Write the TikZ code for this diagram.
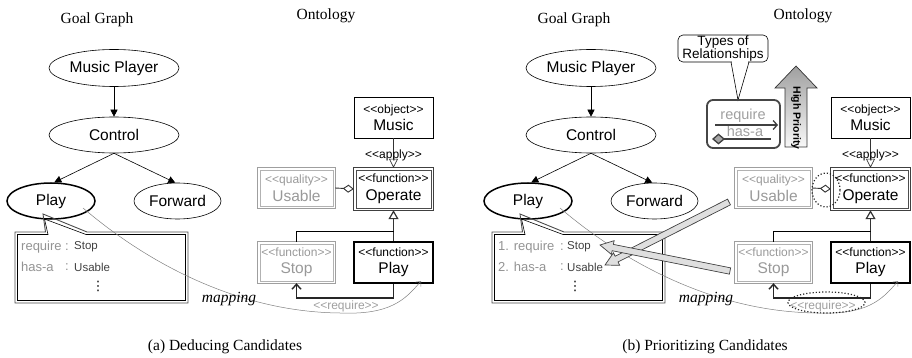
\documentclass[tikz,border=0pt]{standalone}
\usepackage{fontspec}
\setmainfont{Liberation Serif}
\newfontfamily\uf{Liberation Sans}
\newfontfamily\dv{DejaVu Sans}
\usetikzlibrary{arrows.meta,shapes.geometric,calc}
\newcommand\stp[1]{{\fontsize{12}{12}\selectfont #1}}
\tikzset{
  ttl/.style={font=\fontsize{15.5}{18}\selectfont, inner sep=0pt},
  gnode/.style={ellipse, draw, inner sep=0pt, minimum width=130pt, minimum height=37pt, font=\uf\fontsize{15.5}{18}\selectfont, line width=0.6pt},
  garrow/.style={-{Triangle[length=7pt,width=7pt]}, line width=0.6pt},
  obox/.style={rectangle, inner sep=0pt, minimum width=79pt, minimum height=41pt, align=center, font=\uf\fontsize{15.5}{17.5}\selectfont},
  plainbox/.style={obox, draw=black, line width=0.8pt},
  greybox/.style={obox, text=gray!80},
  darkbox/.style={obox},
  thickbox/.style={obox, draw=black, line width=1.6pt},
  smalllab/.style={font=\uf\fontsize{12}{12}\selectfont, inner sep=0pt},
  listtxt/.style={font=\uf\fontsize{13}{14}\selectfont, text=gray!85, inner sep=0pt, anchor=west},
  listsm/.style={font=\uf\fontsize{11.5}{13}\selectfont, text=gray!50!black, inner sep=0pt, anchor=west},
  calloutline/.style={draw=black, line width=0.6pt},
  maparrow/.style={gray, line width=0.5pt, -{Straight Barb[length=4pt,width=7pt]}},
  bigarrow/.style={fill=gray!25, draw=gray!50!black, line width=0.7pt},
  dotell/.style={ellipse, draw=gray!30!black, dotted, line width=1.2pt, inner sep=0pt},
}
% double border round a node: name, outer colour, inner colour
\newcommand\dblbox[3]{%
  \draw[#2, line width=0.8pt] (#1.north west) rectangle (#1.south east);
  \draw[#3, line width=0.8pt] ([shift={(2.2pt,-2.2pt)}]#1.north west) rectangle ([shift={(-2.2pt,2.2pt)}]#1.south east);}
% fat arrow from #1 (tail) to #2 (tip)
\newcommand\fatarrow[2]{%
  \coordinate (fhb) at ($(#2)!13pt!(#1)$);
  \draw[bigarrow] ($(#1)!3.2pt!90:(#2)$) -- ($(fhb)!3.2pt!-90:(#1)$) -- ($(fhb)!7pt!-90:(#1)$) -- (#2)
     -- ($(fhb)!7pt!90:(#1)$) -- ($(fhb)!3.2pt!90:(#1)$) -- ($(#1)!3.2pt!-90:(#2)$) -- cycle;}
\newcommand\panel[2]{%
\begin{scope}[xshift=#2]
  \node[ttl] (#1gt) at (97,20) {Goal Graph};
  \node[ttl] (#1ot) at (326,16) {Ontology};
  \node[gnode] (#1mp) at (114,68) {Music Player};
  \node[gnode, minimum height=36pt] (#1ctl) at (114,135) {Control};
  \node[gnode, minimum width=88pt, minimum height=36pt, line width=1.5pt] (#1play) at (51,201) {Play};
  \node[gnode, minimum width=87pt, minimum height=36pt] (#1fwd) at (177.5,201) {Forward};
  \draw[garrow] (#1mp) -- (#1ctl);
  \draw[garrow] (#1ctl.south) -- (#1play.80);
  \draw[garrow] (#1ctl.south) -- (#1fwd.97);
  % callout list (double line)
  \coordinate (#1tip) at (43,214);
  \draw[calloutline, gray!60!black, line width=0.9pt] (#1tip) -- (45.5,232) -- (15,232) -- (15,303) -- (188,303) -- (188,232) -- (87,232) -- cycle;
  \draw[calloutline] (44.5,219) -- (48,234.5) -- (17.5,234.5) -- (17.5,300.5) -- (185.5,300.5) -- (185.5,234.5) -- (86,234.5) -- cycle;
  \node[font=\dv\fontsize{13}{13}\selectfont, inner sep=0pt] (#1dots) at (98,286) {⋮};
  % ontology
  \node[plainbox] (#1music) at (393.5,117.5) {\stp{<<object>>}\\Music};
  \node[darkbox, minimum height=42pt] (#1operate) at (393.5,189) {\stp{<<function>>}\\Operate};
  \dblbox{#1operate}{gray!50!black}{gray!60!black}
  \node[greybox, minimum width=77pt, minimum height=40pt] (#1usable) at (296.5,188) {\stp{<<quality>>}\\Usable};
  \dblbox{#1usable}{gray!75}{gray!60}
  \node[greybox, minimum width=77pt] (#1stop) at (296.5,262.5) {\stp{<<function>>}\\Stop};
  \dblbox{#1stop}{gray!75}{gray!60}
  \node[thickbox] (#1oplay) at (393.5,262.5) {\stp{<<function>>}\\Play};
  \draw[line width=0.7pt, gray!40!black, -{Triangle[open,length=9pt,width=9pt]}] (#1music.south) -- (#1operate.north);
  \node[smalllab] (#1apply) at (393.5,155) {<<apply>>};
  \draw[line width=0.9pt, gray!40!black, -{Diamond[open,length=11pt,width=8pt]}] (#1usable.east) -- (#1operate.west);
  \coordinate (#1gj) at (393.5,231);
  \draw[line width=1.2pt, gray!40!black, -{Triangle[open,length=9pt,width=10pt]}] (#1oplay.north) -- (#1operate.south);
  \draw[line width=0.7pt] (#1stop.north) |- (#1gj);
  \draw[line width=1.4pt, gray!30!black, -{Straight Barb[length=5pt,width=9pt]}] (#1oplay.south) -- ++(0,14) -| (#1stop.south);
  \node[smalllab, text=gray!75] (#1reqlab) at (346,306) {<<require>>};
  % mapping
  \coordinate (#1ms) at (83,208);
  \coordinate (#1mm) at (340,313);
  \coordinate (#1me) at (421,281);
  \draw[maparrow] (#1ms) .. controls (150,265) and (240,312) .. (#1mm) .. controls (390,315) and (405,300) .. (#1me);
  \node[font=\itshape\fontsize{15.5}{18}\selectfont, inner sep=0pt] (#1maplab) at (229,299) {mapping};
\end{scope}}

\begin{document}
\begin{tikzpicture}[x=1pt, y=-1pt]
\useasboundingbox (0,0) rectangle (912,358);

\panel{a}{0pt}
\panel{b}{477pt}

% left list
\node[listtxt] (lreq) at (21,247) {require};
\node[listtxt] (lc1) at (65,247) {:};
\node[listsm] (lstop) at (74,247) {Stop};
\node[listtxt] (lhas) at (21,267) {has-a};
\node[listtxt] (lc2) at (65,267) {:};
\node[listsm] (lusable) at (74,267) {Usable};

% right list
\node[listtxt] (rreq) at (498,247) {1. require};
\node[listtxt] (rc1) at (560,247) {:};
\node[listsm] (rstop) at (567,247) {Stop};
\node[listtxt] (rhas) at (498,267) {2. has-a};
\node[listtxt] (rc2) at (560,267) {:};
\node[listsm] (rusable) at (567,267) {Usable};

% captions
\node[ttl] (capa) at (225,347) {(a) Deducing Candidates};
\node[ttl] (capb) at (705,347) {(b) Prioritizing Candidates};

% types of relationships callout
\node[draw, line width=0.6pt, rounded corners=5pt, minimum width=90pt, minimum height=27pt, inner sep=0pt, align=center, font=\uf\fontsize{13.5}{13}\selectfont, fill=white] (tor) at (723,48.5) {Types of\\Relationships};
\coordinate (ttip) at (738,100);
\fill[white] (731.6,60.5) rectangle (748.4,63.6);
\draw[line width=0.6pt] (731,62) -- (ttip) -- (749,62);

% relationship box
\node[draw=gray!55!black, line width=1.8pt, rounded corners=6pt, minimum width=73pt, minimum height=48pt, inner sep=0pt] (rel) at (743.5,124) {};
\node[font=\uf\fontsize{14.5}{15}\selectfont, text=gray!75, inner sep=0pt] (relreq) at (743,116) {require};
\node[font=\uf\fontsize{14.5}{15}\selectfont, text=gray!75, inner sep=0pt] (relhas) at (745,131) {has-a};
\coordinate (ra1) at (715,125);
\coordinate (ra2) at (778,125);
\draw[line width=1.3pt, gray!50!black, -{Straight Barb[length=4pt,width=9pt]}] (ra1) -- (ra2);
\coordinate (rd1) at (712,139);
\coordinate (rd2) at (771,139);
\draw[line width=1.3pt, gray!50!black, {Diamond[fill=gray!70, length=13pt,width=11pt]}-] (rd1) -- (rd2);

% high priority arrow
\draw[top color=gray!75, bottom color=gray!5, draw=gray!40!black, line width=0.7pt]
  (785,147) -- (785,88) -- (775,88) -- (796,66) -- (817,88) -- (807,88) -- (807,147) -- cycle;
\node[rotate=-90, font=\uf\bfseries\fontsize{10.5}{11}\selectfont, inner sep=0pt] (hp) at (796,118) {High Priority};

% dotted highlights
\node[dotell, minimum width=28pt, minimum height=34pt] (dia) at (826,190) {};
\node[dotell, minimum width=77pt, minimum height=21pt] (reqell) at (826.5,302.5) {};

% big grey arrows
\coordinate (fa1) at (729,202);
\coordinate (fa1t) at (605,265);
\coordinate (fa2) at (730,271);
\coordinate (fa2t) at (600,245);
\fatarrow{fa1}{fa1t}
\fatarrow{fa2}{fa2t}
\end{tikzpicture}
\end{document}
